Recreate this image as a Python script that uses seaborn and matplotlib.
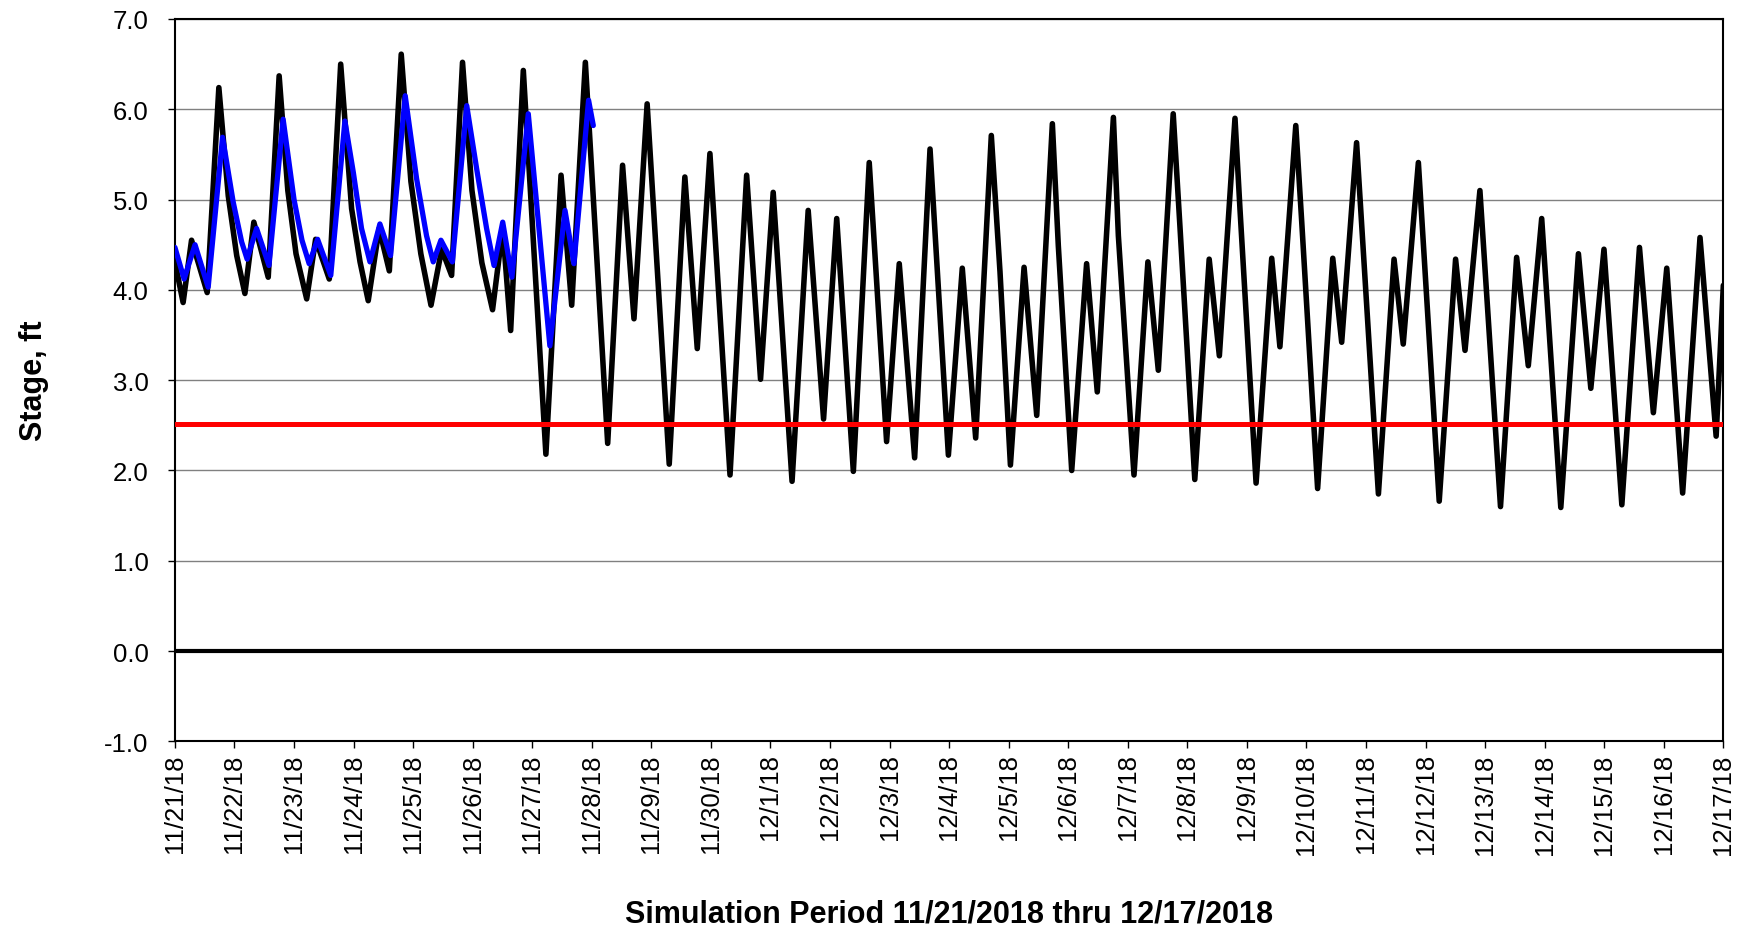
import matplotlib
matplotlib.use("Agg")
import matplotlib.pyplot as plt
import seaborn as sns
import pandas as pd
import numpy as np

start = pd.Timestamp("2018-11-21")
end = pd.Timestamp("2018-12-17")

# simulated stage: hours after 11/21/18 00:00 and stage in ft
model_hours = [0.0, 3.3, 6.7, 13.0, 17.7, 21.5, 24.9, 28.2, 31.8, 37.6, 42.0, 45.5, 48.8,
               53.1, 56.7, 62.2, 66.8, 71.2, 74.6, 77.9, 82.3, 86.4, 91.2, 95.1, 99.1,
               103.2, 107.5, 111.5, 115.9, 119.7, 123.7, 128.0, 132.1, 135.3, 140.4,
               149.5, 155.6, 159.9, 165.4, 174.4, 180.4, 185.0, 190.3, 199.2, 205.5,
               210.5, 215.6, 223.7, 230.4, 236.0, 241.1, 248.7, 255.2, 261.4, 266.7,
               273.4, 279.8, 286.8, 291.9, 298.1, 304.3, 311.7, 317.3, 322.7, 329.0,
               332.5, 336.7, 342.2, 347.3, 353.6, 356.0, 361.4, 367.4, 371.7, 378.2,
               380.2, 386.5, 392.1, 396.3, 402.3, 405.0, 411.0, 416.8, 420.9, 427.2,
               429.2, 435.7, 442.0, 445.3, 451.7, 454.1, 460.5, 466.6, 470.2, 476.2,
               485.0, 491.3, 495.0, 501.1, 509.5, 516.1, 519.9, 525.9, 534.2, 540.7,
               545.4, 550.8, 558.5, 565.6, 570.6, 575.9, 583.1, 590.2, 595.8, 601.2,
               607.6, 614.6, 621.1, 624.0]
model_stage = [4.31, 3.86, 4.55, 3.97, 6.24, 5.04, 4.38, 3.96, 4.75, 4.14, 6.37, 5.10, 4.40,
               3.90, 4.56, 4.12, 6.50, 4.90, 4.31, 3.88, 4.68, 4.21, 6.61, 5.20, 4.40,
               3.83, 4.45, 4.16, 6.52, 5.10, 4.30, 3.78, 4.68, 3.55, 6.43,
               2.18, 5.27, 3.83, 6.52, 2.30, 5.38, 3.68, 6.06, 2.07, 5.25,
               3.35, 5.51, 1.95, 5.27, 3.01, 5.08, 1.88, 4.88, 2.57, 4.79,
               1.99, 5.41, 2.32, 4.29, 2.14, 5.56, 2.17, 4.24, 2.36, 5.71,
               4.20, 2.06, 4.25, 2.61, 5.84, 4.49, 2.00, 4.29, 2.87, 5.91,
               4.60, 1.95, 4.31, 3.11, 5.95, 4.71, 1.90, 4.34, 3.27, 5.90,
               4.90, 1.86, 4.35, 3.37, 5.82, 4.75, 1.80, 4.35, 3.42, 5.63,
               1.74, 4.34, 3.40, 5.41, 1.66, 4.34, 3.33, 5.10, 1.60, 4.36,
               3.16, 4.79, 1.59, 4.40, 2.91, 4.45, 1.62, 4.47, 2.64, 4.24,
               1.75, 4.58, 2.38, 4.05]

# observed stage (ends 11/28)
obs_hours = [0.0, 3.7, 8.1, 13.4, 19.2, 23.5, 26.9, 29.1, 32.9, 37.9, 43.6, 48.0, 51.2,
             54.1, 57.5, 62.8, 68.5, 71.9, 75.2, 78.6, 82.6, 86.9, 92.8, 97.4, 101.4,
             104.1, 107.2, 111.8, 117.6, 121.6, 125.6, 128.6, 132.1, 135.8, 142.4,
             151.1, 157.2, 160.8, 166.7, 168.6]
obs_stage = [4.47, 4.12, 4.50, 4.03, 5.69, 4.97, 4.53, 4.34, 4.68, 4.27, 5.89, 5.00, 4.55,
             4.29, 4.56, 4.16, 5.87, 5.30, 4.68, 4.31, 4.73, 4.38, 6.15, 5.23, 4.60,
             4.31, 4.55, 4.31, 6.04, 5.34, 4.68, 4.27, 4.75, 4.14, 5.95,
             3.38, 4.88, 4.29, 6.10, 5.82]

threshold = 2.52

model = pd.DataFrame({"time": start + pd.to_timedelta(model_hours, unit="h"),
                      "stage": model_stage})
obs = pd.DataFrame({"time": start + pd.to_timedelta(obs_hours, unit="h"),
                    "stage": obs_stage})

sns.set_theme(style="ticks")
plt.rcParams['font.family'] = ['Liberation Sans', 'DejaVu Sans']
plt.rcParams['text.color'] = 'black'
plt.rcParams['xtick.color'] = 'black'
plt.rcParams['ytick.color'] = 'black'

fig, ax = plt.subplots(figsize=(17.51, 9.29), dpi=100)
fig.subplots_adjust(left=0.0999, right=0.9842, top=0.9785, bottom=0.2009)

ax.yaxis.grid(True, color="#808080", lw=1.0)
ax.set_axisbelow(True)
ax.axhline(0, color="black", lw=3, zorder=2)
sns.lineplot(data=model, x="time", y="stage", color="black", lw=4.0,
             estimator=None, sort=False, ax=ax, zorder=3,
             solid_joinstyle="round", solid_capstyle="round")
sns.lineplot(data=obs, x="time", y="stage", color="#0000ff", lw=3.8,
             estimator=None, sort=False, ax=ax, zorder=4,
             solid_joinstyle="round", solid_capstyle="round")
ax.axhline(threshold, color="#ff0000", lw=3.6, zorder=5)

days = pd.date_range(start, end, freq="D")
ax.set_xlim(start, end)
ax.set_xticks(days)
ax.set_xticklabels([f"{d.month}/{d.day}/{d.strftime('%y')}" for d in days],
                   rotation=90, fontsize=18.5, color="black")
yt = np.arange(-1, 7.01, 1.0)
ax.set_ylim(-1, 7)
ax.set_yticks(yt)
ax.set_yticklabels([f"{v:.1f}" for v in yt], fontsize=18.5, color="black")
ax.tick_params(axis="x", direction="out", length=5, width=1, pad=3.5, colors="black")
ax.tick_params(axis="y", direction="out", length=5, width=1, pad=14, colors="black")
for s in ax.spines.values():
    s.set_color("black")
    s.set_linewidth(1.5)
ax.set(xlabel=None, ylabel=None)

fig.text(0.5 + (0.0999 + 0.9842 - 1) / 2, 0.0156, 'Simulation Period 11/21/2018 thru 12/17/2018',
         ha='center', va='center', fontsize=22, fontweight='bold', color='black')
fig.text(34 / 1751, 0.59, 'Stage, ft', ha='center', va='center', rotation='vertical',
         fontsize=22, fontweight='bold', color='black')

fig.savefig("out.png", dpi=100)
